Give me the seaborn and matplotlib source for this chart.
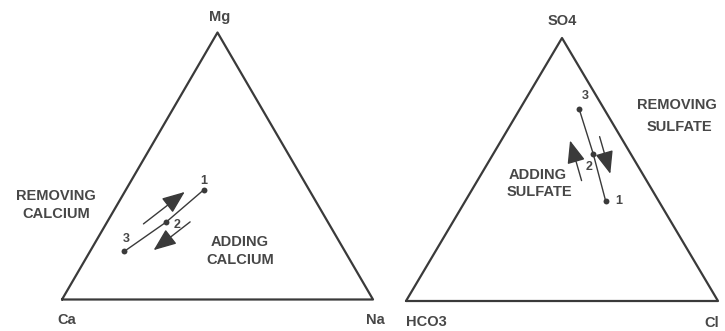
import numpy as np
import pandas as pd
import matplotlib
matplotlib.use("Agg")
import matplotlib.pyplot as plt
import matplotlib.transforms as mtransforms
import seaborn as sns

sns.set_style("white")
plt.rcParams["font.family"] = ["Liberation Sans", "DejaVu Sans"]

# Samples along the evolution path
sample_ids = ["1", "2", "3"]

# Cation composition (fractions of Ca, Mg, Na)
cation_ca = [0.34, 0.52, 0.71]
cation_mg = [0.41, 0.29, 0.18]
cation_na = [0.25, 0.19, 0.11]

# Anion composition (fractions of HCO3, SO4, Cl)
anion_hco3 = [0.17, 0.12, 0.08]
anion_so4 = [0.38, 0.56, 0.73]
anion_cl = [0.45, 0.32, 0.19]

# Vertex labels: bottom-left, bottom-right, top
cation_vertices = ["Ca", "Na", "Mg"]
anion_vertices = ["HCO3", "Cl", "SO4"]

INK = "#3a3a3a"
TXT = "#474747"
H = np.sqrt(3) / 2
FIG_W, FIG_H = 725, 331


def ternary_xy(left, right, top):
    left, right, top = map(np.asarray, (left, right, top))
    total = left + right + top
    r, t = right / total, top / total
    return r + t / 2, t * H


def place(ax, x_left_px, x_right_px, base_px, apex_px):
    sx = x_right_px - x_left_px
    sy = (base_px - apex_px) / H
    ax.set_xlim(-x_left_px / sx, (FIG_W - x_left_px) / sx)
    ax.set_ylim(-(FIG_H - base_px) / sy, base_px / sy)
    ax.set_axis_off()


def draw_triangle(ax, left, right, top, ids, vertices, vlabel_offsets, id_offsets):
    frame = pd.DataFrame({"x": [0, 1, 0.5, 0], "y": [0, 0, H, 0]})
    sns.lineplot(data=frame, x="x", y="y", sort=False, estimator=None,
                 color=INK, lw=1.6, ax=ax)
    x, y = ternary_xy(left, right, top)
    df = pd.DataFrame({"x": x, "y": y, "id": ids})
    sns.lineplot(data=df, x="x", y="y", sort=False, estimator=None,
                 color=INK, lw=1.0, ax=ax)
    sns.scatterplot(data=df, x="x", y="y", color=INK, s=18,
                    edgecolor=INK, linewidth=0, ax=ax, zorder=3)
    for (px, py), name, off in zip([(0, 0), (1, 0), (0.5, H)], vertices, vlabel_offsets):
        ax.annotate(name, (px, py), xytext=off, textcoords="offset pixels",
                    ha="center", va="center", fontsize=10.5,
                    fontweight="bold", color=TXT)
    for xi, yi, lab, off in zip(df["x"], df["y"], df["id"], id_offsets):
        ax.annotate(lab, (xi, yi), xytext=off, textcoords="offset pixels",
                    ha="center", va="center", fontsize=9,
                    fontweight="bold", color=TXT)
    return df


def path_arrows(ax, fig, df, specs):
    # t runs from sample 3 (t=0) to sample 1 (t=1); offset is perpendicular, in pixels
    p3 = df[["x", "y"]].iloc[-1].to_numpy()
    p1 = df[["x", "y"]].iloc[0].to_numpy()
    d3, d1 = ax.transData.transform([p3, p1])
    d = (d1 - d3) / np.linalg.norm(d1 - d3)
    perp = np.array([-d[1], d[0]])
    for t0, t1, off in specs:
        shift = mtransforms.ScaledTranslation(perp[0] * off / fig.dpi,
                                              perp[1] * off / fig.dpi,
                                              fig.dpi_scale_trans)
        tr = ax.transData + shift
        start = p3 + t0 * (p1 - p3)
        end = p3 + t1 * (p1 - p3)
        ax.annotate("", xy=end, xycoords=tr, xytext=start, textcoords=tr,
                    arrowprops=dict(arrowstyle="-|>,head_length=1.0,head_width=0.4",
                                    mutation_scale=14, color=INK, lw=1.0,
                                    shrinkA=0, shrinkB=0))


fig = plt.figure(figsize=(FIG_W / 100, FIG_H / 100), dpi=100)
fig.patch.set_facecolor("white")

ax_cat = fig.add_axes([0, 0, 1, 1])
ax_cat.patch.set_alpha(0)
place(ax_cat, 62, 373, 299.5, 32.5)
cat_df = draw_triangle(ax_cat, cation_ca, cation_na, cation_mg, sample_ids,
                       cation_vertices,
                       [(5, -20), (2, -21), (2, 16)],
                       [(0, 9), (11, -3), (2, 12)])
path_arrows(ax_cat, fig, cat_df, [(0.32, 0.84, 10), (0.70, 0.24, -17)])

ax_an = fig.add_axes([0, 0, 1, 1])
ax_an.patch.set_alpha(0)
place(ax_an, 406, 718, 301, 38)
an_df = draw_triangle(ax_an, anion_hco3, anion_cl, anion_so4, sample_ids,
                      anion_vertices,
                      [(20, -21), (-6, -22), (0, 17)],
                      [(13, 0), (-4, -13), (6, 13)])
path_arrows(ax_an, fig, an_df, [(0.725, 0.29, -17.5), (0.336, 0.74, 12)])

# Process annotations
fig.text(56 / FIG_W, 1 - 196 / FIG_H, "REMOVING", ha="center", va="center",
         fontsize=10.5, fontweight="bold", color=TXT)
fig.text(56 / FIG_W, 1 - 214 / FIG_H, "CALCIUM", ha="center", va="center",
         fontsize=10.5, fontweight="bold", color=TXT)
fig.text(240 / FIG_W, 1 - 242 / FIG_H, "ADDING", ha="center", va="center",
         fontsize=10.5, fontweight="bold", color=TXT)
fig.text(240 / FIG_W, 1 - 260 / FIG_H, "CALCIUM", ha="center", va="center",
         fontsize=10.5, fontweight="bold", color=TXT)
fig.text(677 / FIG_W, 1 - 105 / FIG_H, "REMOVING", ha="center", va="center",
         fontsize=10.5, fontweight="bold", color=TXT)
fig.text(679 / FIG_W, 1 - 127 / FIG_H, "SULFATE", ha="center", va="center",
         fontsize=10.5, fontweight="bold", color=TXT)
fig.text(538 / FIG_W, 1 - 175 / FIG_H, "ADDING", ha="center", va="center",
         fontsize=10.5, fontweight="bold", color=TXT)
fig.text(539 / FIG_W, 1 - 192 / FIG_H, "SULFATE", ha="center", va="center",
         fontsize=10.5, fontweight="bold", color=TXT)

fig.savefig("out.png", dpi=100, facecolor="white")
